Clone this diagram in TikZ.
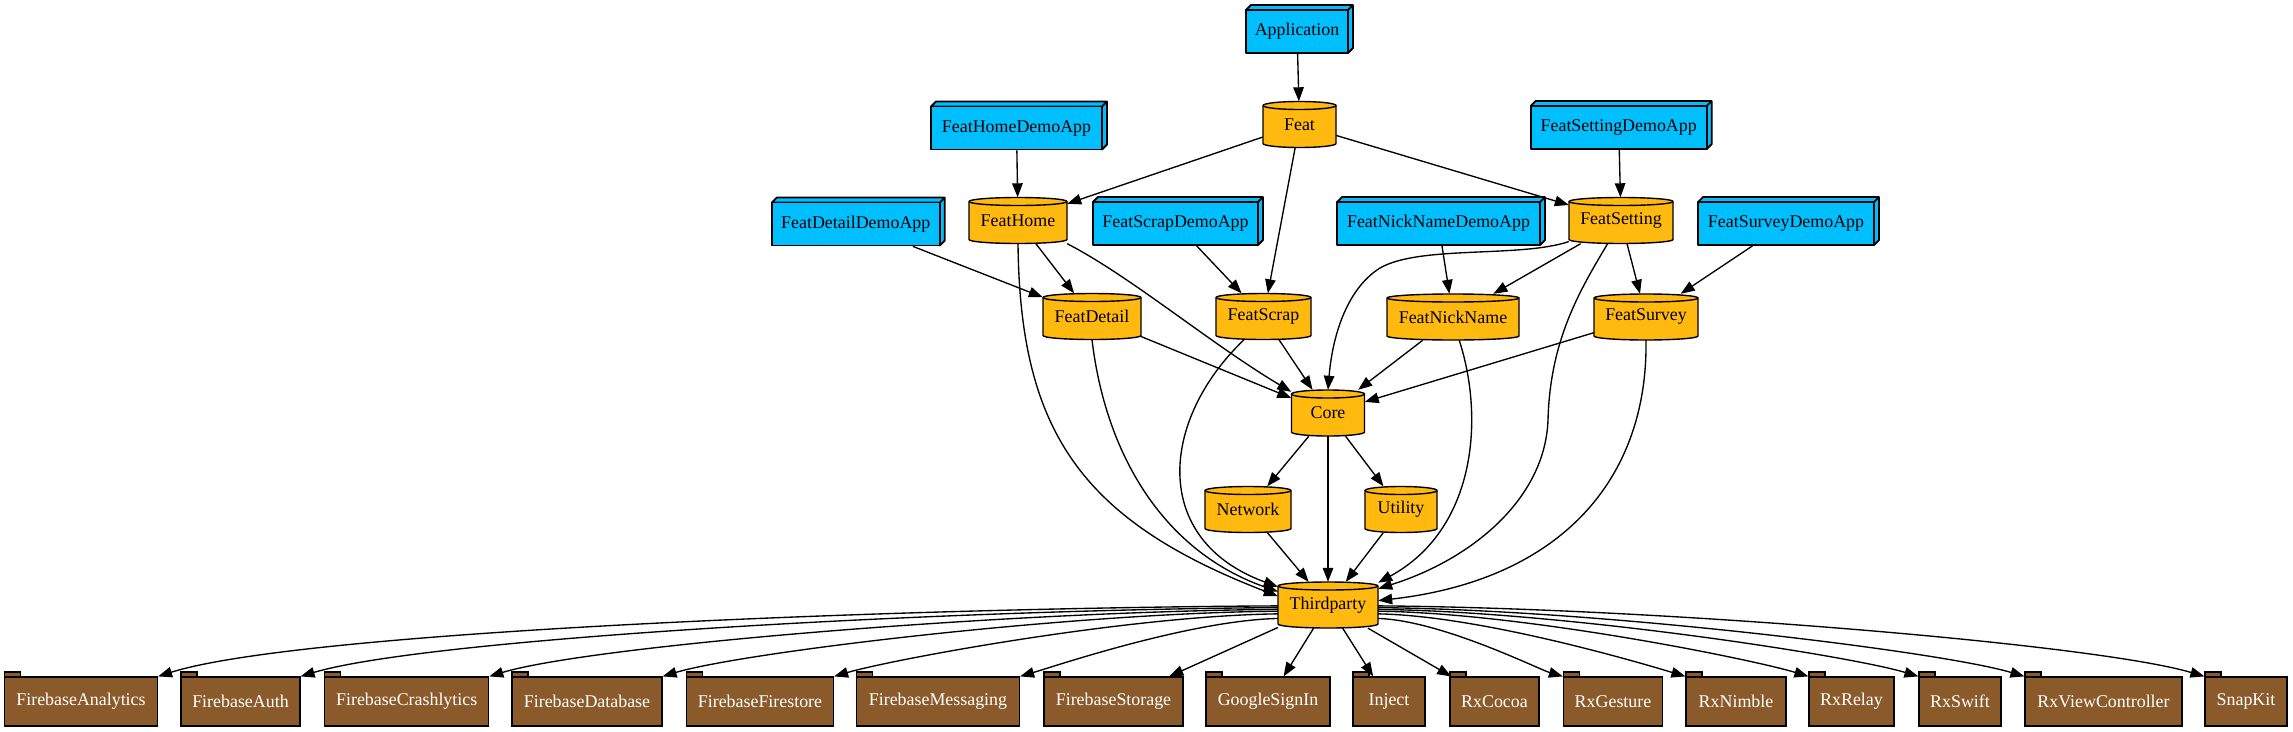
\documentclass[tikz,border=0pt]{standalone}
\usepackage{fontspec}
\setmainfont{Liberation Serif}
\usetikzlibrary{arrows.meta}
\definecolor{boxblue}{HTML}{00BFFF}
\definecolor{cylgold}{HTML}{FFB90F}
\definecolor{foldbrown}{HTML}{8B5A2B}
\tikzset{
 lbl/.style={font=\fontsize{17.9}{20}\selectfont},
 edge/.style={draw=black, line width=1.35pt, -{Triangle[length=14pt,width=10.5pt]}},
 boxsh/.style={fill=boxblue, draw=black, line width=1.8pt, line join=round},
 boxnd/.style={boxsh, lbl, rectangle, minimum height=43pt, inner sep=0pt},
 cylsh/.style={fill=cylgold, draw=black, line width=1.4pt},
 cylnd/.style={lbl, rectangle, minimum height=46pt, inner sep=0pt},
 foldsh/.style={fill=foldbrown, draw=black, line width=1.2pt},
 foldnd/.style={foldsh, lbl, rectangle, minimum height=49pt, inner sep=0pt, text=white},
}
\newcommand\boxnode[5]{%
 \filldraw[boxsh] ({#2-#4/2},{#3+21.5}) -- ++(5,5) -- ({#2+#4/2+5},{#3+26.5}) -- ++(0,-43) -- ({#2+#4/2},{#3-21.5}) -- ({#2+#4/2},{#3+21.5}) -- cycle ({#2+#4/2},{#3+21.5}) -- ++(5,5);
 \node[boxnd, minimum width=#4pt] (#1) at (#2,#3) {#5};}
\newcommand\cylnode[5]{%
 \path[cylsh] ({#2-#4/2},{#3+19}) -- ({#2-#4/2},{#3-19}) arc[start angle=180,end angle=360,x radius={#4/2},y radius=4] -- ({#2+#4/2},{#3+19}) arc[start angle=0,end angle=180,x radius={#4/2},y radius=4] -- cycle;
 \draw[cylsh, fill=none] ({#2-#4/2},{#3+19}) arc[start angle=180,end angle=360,x radius={#4/2},y radius=4];
 \node[cylnd, minimum width=#4pt] (#1) at (#2,#3) {#5};}
\newcommand\foldnode[5]{%
 \node[foldnd, minimum width=#4pt] (#1) at (#2,#3) {#5};
 \filldraw[foldsh] ({#2-#4/2},{#3+24.5}) rectangle ++(16,5);}
\begin{document}
\begin{tikzpicture}[x=1pt,y=1pt]
\fill[white] (0,0) rectangle (2293,-731);
\useasboundingbox (0,0) rectangle (2293,-731);
% boxes
\boxnode{app}{1297}{-31.5}{102}{Application}
\boxnode{fhd}{1016.5}{-128}{171}{FeatHomeDemoApp}
\boxnode{fstd}{1618.7}{-127.5}{176}{FeatSettingDemoApp}
\boxnode{fdd}{855.8}{-224}{168}{FeatDetailDemoApp}
\boxnode{fsd}{1175.5}{-223.5}{165}{FeatScrapDemoApp}
\boxnode{fnd}{1438.5}{-223.5}{203}{FeatNickNameDemoApp}
\boxnode{fsvd}{1786}{-223.5}{176}{FeatSurveyDemoApp}
% cylinders
\cylnode{feat}{1299.5}{-124.5}{73}{Feat}
\cylnode{fh}{1018}{-220.5}{98}{FeatHome}
\cylnode{fst}{1621}{-220.5}{104}{FeatSetting}
\cylnode{fd}{1092}{-316.5}{98}{FeatDetail}
\cylnode{fs}{1263.5}{-316.5}{95}{FeatScrap}
\cylnode{fn}{1453}{-317}{132}{FeatNickName}
\cylnode{fsv}{1646}{-317}{104}{FeatSurvey}
\cylnode{core}{1328}{-413}{73}{Core}
\cylnode{net}{1248}{-509.5}{86}{Network}
\cylnode{util}{1401}{-509.5}{72}{Utility}
\cylnode{tp}{1328}{-605}{100}{Thirdparty}
% folders
\foldnode{fa}{81}{-701.5}{153}{FirebaseAnalytics}
\foldnode{fau}{240.5}{-701.5}{119}{FirebaseAuth}
\foldnode{fc}{406.7}{-701.5}{164}{FirebaseCrashlytics}
\foldnode{fdb}{587}{-701.5}{150}{FirebaseDatabase}
\foldnode{ff}{760}{-701.5}{147}{FirebaseFirestore}
\foldnode{fm}{938}{-701.5}{163}{FirebaseMessaging}
\foldnode{fsto}{1113.5}{-701.5}{139}{FirebaseStorage}
\foldnode{gs}{1268}{-701.5}{124}{GoogleSignIn}
\foldnode{inj}{1389}{-701.5}{72}{Inject}
\foldnode{rxc}{1494.5}{-701.5}{89}{RxCocoa}
\foldnode{rxg}{1613}{-701.5}{99}{RxGesture}
\foldnode{rxn}{1736}{-701.5}{100}{RxNimble}
\foldnode{rxr}{1851.5}{-701.5}{85}{RxRelay}
\foldnode{rxs}{1960}{-701.5}{82}{RxSwift}
\foldnode{rxv}{2103.5}{-701.5}{157}{RxViewController}
\foldnode{snap}{2246}{-701.5}{82}{SnapKit}
% edges
\draw[edge] (app) -- (feat);
\draw[edge] (feat) -- (fh);
\draw[edge] (feat) -- (fs);
\draw[edge] (feat) -- (fst);
\draw[edge] (fhd) -- (fh);
\draw[edge] (fstd) -- (fst);
\draw[edge] (fdd) -- (fd);
\draw[edge] (fh) -- (fd);
\draw[edge] (fh.south east) .. controls (1130,-276) and (1211,-344) .. (core.150);
\draw[edge] (fh.south) .. controls (1020,-430) and (1080,-520) .. (tp.170);
\draw[edge] (fsd) -- (fs);
\draw[edge] (fnd) -- (fn);
\draw[edge] (fst) -- (fn);
\draw[edge] (fst) -- (fsv);
\draw[edge] (fst.-158) .. controls (1520,-258) and (1420,-245) .. (1380,-268) .. controls (1345,-290) and (1332,-340) .. (core.north);
\draw[edge] (fst.-120) .. controls (1580,-290) and (1550,-340) .. (1548,-420) .. controls (1545,-500) and (1470,-560) .. (tp.18);
\draw[edge] (fsvd) -- (fsv);
\draw[edge] (fd) -- (core);
\draw[edge] (fd.south) .. controls (1105,-450) and (1160,-550) .. (tp.165);
\draw[edge] (fs) -- (core);
\draw[edge] (fs.-130) .. controls (1160,-420) and (1150,-540) .. (tp.160);
\draw[edge] (fn) -- (core);
\draw[edge] (fn.-75) .. controls (1485,-420) and (1475,-530) .. (tp.24);
\draw[edge] (fsv) -- (core);
\draw[edge] (fsv.south) .. controls (1648,-480) and (1560,-580) .. (tp.5);
\draw[edge] (core) -- (net);
\draw[edge] (core) -- (util);
\draw[edge] (core) -- (tp);
\draw[edge] (net) -- (tp);
\draw[edge] (util) -- (tp);
% thirdparty to folders
\draw[edge] (tp.181) .. controls +(-380,-2) and +(142,45) .. (fa.north east);
\draw[edge] (tp.183) .. controls +(-333,-2) and +(127,38) .. (fau.north east);
\draw[edge] (tp.185) .. controls +(-268,-2) and +(103,31) .. (fc.north east);
\draw[edge] (tp.187) .. controls +(-209,-2) and +(80,24) .. (fdb.north east);
\draw[edge] (tp.190) .. controls +(-151,-2) and +(58,17) .. (ff.north east);
\draw[edge] (tp.195) .. controls +(-88,-2) and +(34,10) .. (fm.north east);
\draw[edge] (tp) -- (fsto);
\draw[edge] (tp) -- (gs);
\draw[edge] (tp) -- (inj);
\draw[edge] (tp) -- (rxc);
\draw[edge] (tp.-15) .. controls +(63,-2) and +(-24,7) .. (rxg.north west);
\draw[edge] (tp.-10) .. controls +(105,-2) and +(-40,12) .. (rxn.north west);
\draw[edge] (tp.-7) .. controls +(147,-2) and +(-56,17) .. (rxr.north west);
\draw[edge] (tp.-5) .. controls +(184,-2) and +(-70,21) .. (rxs.north west);
\draw[edge] (tp.-3) .. controls +(220,-2) and +(-84,25) .. (rxv.north west);
\draw[edge] (tp.-1) .. controls +(281,-2) and +(-108,32) .. (snap.north west);
\end{tikzpicture}
\end{document}
